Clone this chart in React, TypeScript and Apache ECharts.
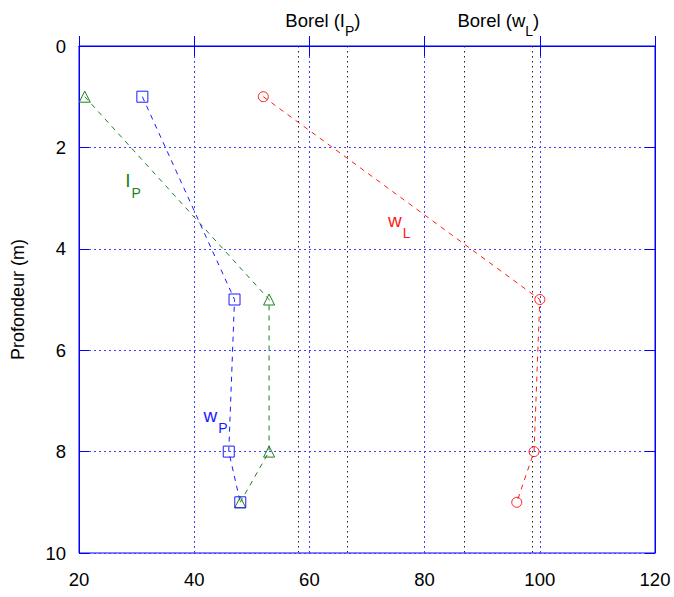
import React, { useEffect, useRef } from "react";
import * as echarts from "echarts";

const depths = [1, 5, 8, 9];
const ipValues = [21, 53, 53, 48];
const wpValues = [31, 47, 46, 48];
const wlValues = [52, 100, 99, 96];
const borelIp = [58.1, 66.6];
const borelWl = [86.9, 98.7];
const xTicks = [20, 40, 60, 80, 100, 120];
const yTicks = [0, 2, 4, 6, 8, 10];

const GREEN = "#1f7f1f";
const BLUE = "#1a1aff";
const RED = "#ff1a1a";
const FONT = "Liberation Sans, Arial, sans-serif";

const pairs = (xs: number[]) => xs.map((x, i) => [x, depths[i]]);

export default function App() {
  const ref = useRef<HTMLDivElement>(null);
  useEffect(() => {
    if (!ref.current) return;
    const chart = echarts.init(ref.current, undefined, { renderer: "svg" });
    const axisCommon = {
      axisLine: { show: true, lineStyle: { color: "#0000ff", width: 1 } },
      axisTick: { show: true, inside: true, length: 10, lineStyle: { color: "#0000ff" } },
    };
    const subLabel = (color: string) => ({
      m: { fontSize: 19, color, fontFamily: FONT },
      s: { fontSize: 14, color, fontFamily: FONT, padding: [26, 0, 0, 1] },
    });
    const borelRich = {
      m: { fontSize: 18.5, color: "#000", fontFamily: FONT },
      s: { fontSize: 14, color: "#000", fontFamily: FONT, padding: [22, 0, 0, 0] },
    };
    const seriesLine = (name: string, vals: number[], color: string, symbol: string, size: number, labelText: string, coord: number[]) => ({
      name,
      type: "line",
      data: pairs(vals),
      symbol,
      symbolSize: size,
      showSymbol: true,
      lineStyle: { color, width: 1, type: [5, 5] },
      itemStyle: { color: "transparent", borderColor: color, borderWidth: 1 },
      z: 5,
      markPoint: {
        symbol: "circle",
        symbolSize: 1,
        itemStyle: { color: "transparent" },
        label: {
          show: true,
          position: "inside",
          formatter: labelText,
          rich: subLabel(color),
        },
        data: [{ coord }],
      },
    });
    chart.setOption({
      animation: false,
      textStyle: { fontFamily: FONT },
      grid: { left: 79, top: 46, width: 576, height: 507, show: true, borderColor: "#0000ff", borderWidth: 1 },
      xAxis: [
        {
          type: "value",
          min: xTicks[0],
          max: xTicks[xTicks.length - 1],
          interval: 20,
          ...axisCommon,
          axisLabel: { fontSize: 18.5, color: "#000", margin: 17, fontFamily: FONT },
          splitLine: { show: true, lineStyle: { color: "#4040ff", width: 1, type: [2, 3] } },
        },
        {
          type: "value",
          position: "top",
          min: xTicks[0],
          max: xTicks[xTicks.length - 1],
          interval: 20,
          ...axisCommon,
          axisLabel: { show: false },
          splitLine: { show: false },
        },
      ],
      yAxis: [
        {
          type: "value",
          inverse: true,
          min: yTicks[0],
          max: yTicks[yTicks.length - 1],
          interval: 2,
          ...axisCommon,
          axisLabel: { fontSize: 18.5, color: "#000", margin: 13, fontFamily: FONT },
          splitLine: { show: true, lineStyle: { color: "#4040ff", width: 1, type: [2, 3] } },
          name: "Profondeur (m)",
          nameLocation: "middle",
          nameRotate: 90,
          nameGap: 52,
          nameTextStyle: { fontSize: 18, color: "#000", fontFamily: FONT },
        },
        {
          type: "value",
          position: "right",
          inverse: true,
          min: yTicks[0],
          max: yTicks[yTicks.length - 1],
          interval: 2,
          ...axisCommon,
          axisLabel: { show: false },
          splitLine: { show: false },
        },
      ],
      series: [
        {
          name: "borel",
          type: "line",
          data: [],
          silent: true,
          z: 3,
          markLine: {
            silent: true,
            symbol: "none",
            label: { show: false },
            lineStyle: { color: "#222", width: 1, type: [1.5, 3.5] },
            data: [...borelIp, ...borelWl].map((v) => ({ xAxis: v })),
          },
          markArea: {
            silent: true,
            itemStyle: { color: "transparent" },
            label: { show: true, position: "top", distance: 8, rich: borelRich },
            data: [
              [{ xAxis: borelIp[0], name: "{m|Borel (I}{s|P}{m|)}" }, { xAxis: borelIp[1] }],
              [{ xAxis: borelWl[0], name: "{m|Borel (w}{s|L}{m|)}" }, { xAxis: borelWl[1] }],
            ],
          },
        },
        seriesLine("I_P", ipValues, GREEN, "triangle", 11, "{m|I}{s|P}", [29.4, 2.65]),
        seriesLine("w_P", wpValues, BLUE, "rect", 11, "{m|w}{s|P}", [43.7, 7.28]),
        seriesLine("w_L", wlValues, RED, "circle", 10, "{m|w}{s|L}", [75.6, 3.44]),
      ],
    });
    return () => chart.dispose();
  }, []);
  return <div ref={ref} style={{ width: 674, height: 597, position: "absolute", left: 0, top: 0 }} />;
}
